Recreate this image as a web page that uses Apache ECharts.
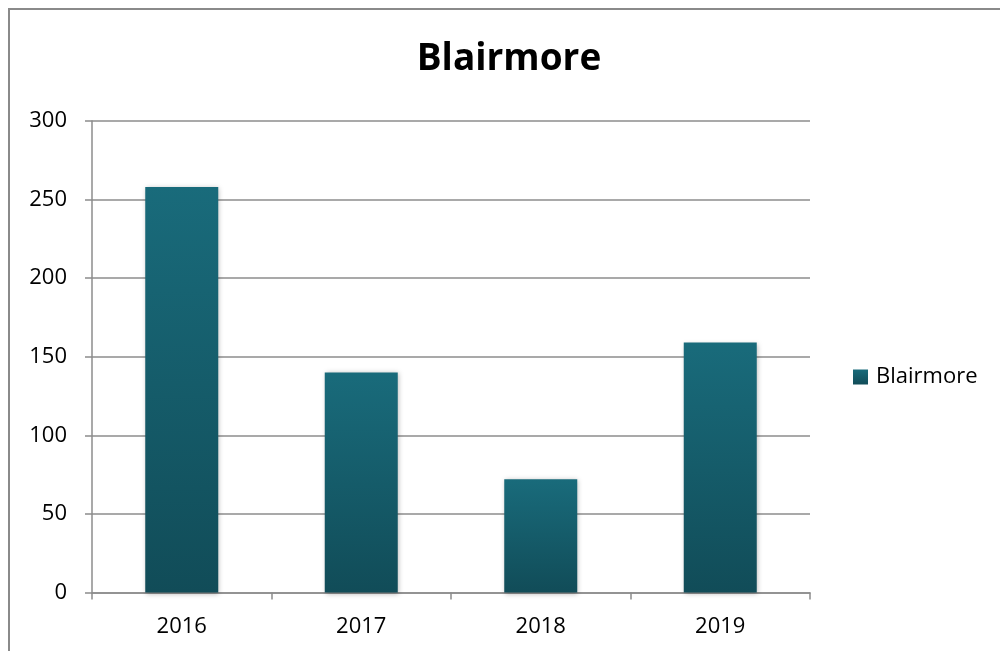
<!DOCTYPE html>
<html>
<head>
<meta charset="utf-8">
<script src="https://cdn.jsdelivr.net/npm/echarts@6/dist/echarts.min.js"></script>
<style>
  html, body { margin: 0; padding: 0; background: #fff; }
  #chart { width: 1000px; height: 651px; }
</style>
</head>
<body>
<div id="chart"></div>
<script>
// Yearly counts for Blairmore
const years = ['2016', '2017', '2018', '2019'];
const counts = [258, 140, 72, 159];
const seriesName = 'Blairmore';
const chartTitle = 'Blairmore';

const chart = echarts.init(document.getElementById('chart'), null, { renderer: 'canvas' });

const barFill = new echarts.graphic.LinearGradient(0, 0, 0, 1, [
  { offset: 0, color: '#196b7b' },
  { offset: 1, color: '#114c58' }
]);

const gridColor = '#8c8c8c';
const labelFont = '"Open Sans", Lato, sans-serif';

chart.setOption({
  animation: false,
  backgroundColor: '#ffffff',
  title: {
    text: chartTitle,
    left: 509,
    textAlign: 'center',
    top: 41,
    padding: 0,
    textStyle: {
      fontFamily: labelFont,
      fontWeight: 'bold',
      fontSize: 37,
      color: '#000'
    }
  },
  graphic: [{
    type: 'rect',
    shape: { x: 9, y: 9, width: 1000, height: 700 },
    style: { fill: 'none', stroke: '#8a8a8a', lineWidth: 2 },
    silent: true
  }],
  legend: {
    left: 853,
    top: 366,
    padding: 0,
    orient: 'vertical',
    itemWidth: 15,
    itemHeight: 15,
    icon: 'rect',
    textStyle: {
      fontFamily: labelFont,
      fontSize: 22,
      color: '#000',
      padding: [0, 0, 0, 3]
    },
    data: [seriesName]
  },
  grid: {
    left: 92,
    right: 190,
    top: 121,
    bottom: 58.5,
    containLabel: false
  },
  xAxis: {
    type: 'category',
    data: years,
    boundaryGap: true,
    axisLine: { show: true, lineStyle: { color: gridColor, width: 1.5 } },
    axisTick: { show: true, length: 7, lineStyle: { color: gridColor, width: 1.5 } },
    axisLabel: {
      margin: 23,
      fontFamily: labelFont,
      fontSize: 22,
      color: '#000'
    },
    splitLine: { show: false }
  },
  yAxis: {
    type: 'value',
    min: 0,
    max: 300,
    interval: 50,
    axisLine: { show: true, lineStyle: { color: gridColor, width: 1.5 } },
    axisTick: { show: true, length: 7, lineStyle: { color: gridColor, width: 1.5 } },
    axisLabel: {
      margin: 25,
      fontFamily: labelFont,
      fontSize: 22,
      color: '#000'
    },
    splitLine: { show: true, lineStyle: { color: gridColor, width: 1.5 } }
  },
  series: [{
    name: seriesName,
    type: 'bar',
    data: counts,
    barWidth: 73,
    itemStyle: {
      color: barFill,
      shadowColor: 'rgba(0,0,0,0.28)',
      shadowBlur: 5,
      shadowOffsetX: 1,
      shadowOffsetY: 1
    }
  }]
});
</script>
</body>
</html>
